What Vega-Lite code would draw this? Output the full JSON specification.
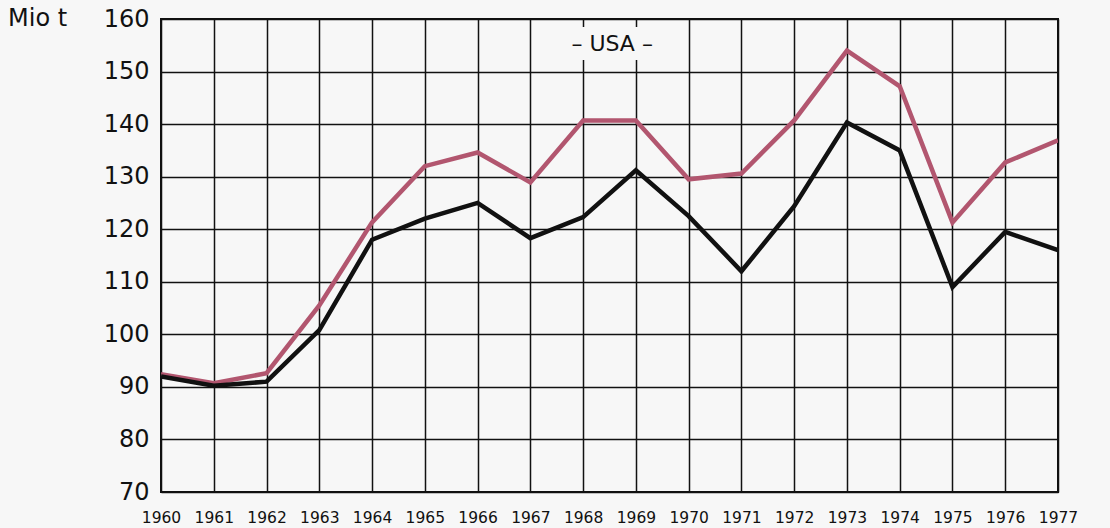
{
  "$schema": "https://vega.github.io/schema/vega-lite/v6.json",
  "width": 897,
  "height": 473,
  "autosize": {"type": "none"},
  "padding": {"left": 161, "top": 19, "right": 52, "bottom": 36},
  "background": "#f7f7f7",
  "config": {
    "view": {"stroke": "#111111", "strokeWidth": 2, "fill": "#f7f7f7"},
    "font": "DejaVu Sans"
  },
  "datasets": {
    "lines": [
      {"year": 1960, "series": "A", "value": 92.4},
      {"year": 1961, "series": "A", "value": 90.7},
      {"year": 1962, "series": "A", "value": 92.6},
      {"year": 1963, "series": "A", "value": 105.5},
      {"year": 1964, "series": "A", "value": 121.3},
      {"year": 1965, "series": "A", "value": 132},
      {"year": 1966, "series": "A", "value": 134.6},
      {"year": 1967, "series": "A", "value": 128.9},
      {"year": 1968, "series": "A", "value": 140.7},
      {"year": 1969, "series": "A", "value": 140.7},
      {"year": 1970, "series": "A", "value": 129.5},
      {"year": 1971, "series": "A", "value": 130.6},
      {"year": 1972, "series": "A", "value": 140.7},
      {"year": 1973, "series": "A", "value": 154},
      {"year": 1974, "series": "A", "value": 147.2},
      {"year": 1975, "series": "A", "value": 121.3},
      {"year": 1976, "series": "A", "value": 132.7},
      {"year": 1977, "series": "A", "value": 136.9},
      {"year": 1960, "series": "B", "value": 92},
      {"year": 1961, "series": "B", "value": 90.2},
      {"year": 1962, "series": "B", "value": 91},
      {"year": 1963, "series": "B", "value": 100.8},
      {"year": 1964, "series": "B", "value": 118},
      {"year": 1965, "series": "B", "value": 122},
      {"year": 1966, "series": "B", "value": 125},
      {"year": 1967, "series": "B", "value": 118.3},
      {"year": 1968, "series": "B", "value": 122.3},
      {"year": 1969, "series": "B", "value": 131.2},
      {"year": 1970, "series": "B", "value": 122.5},
      {"year": 1971, "series": "B", "value": 112},
      {"year": 1972, "series": "B", "value": 124.4},
      {"year": 1973, "series": "B", "value": 140.3},
      {"year": 1974, "series": "B", "value": 135},
      {"year": 1975, "series": "B", "value": 109},
      {"year": 1976, "series": "B", "value": 119.5},
      {"year": 1977, "series": "B", "value": 116}
    ],
    "label": [
      {"x1": 1967.6, "x2": 1969.5, "y1": 152.2, "y2": 158.5, "xc": 1968.55, "yc": 155.2, "text": "– USA –"}
    ]
  },
  "layer": [
    {
      "data": {"name": "label"},
      "mark": {"type": "rect", "fill": "#f7f7f7"},
      "encoding": {
        "x": {"field": "x1", "type": "quantitative", "scale": {"domain": [1960, 1977], "nice": false, "zero": false},
          "axis": {"values": [1960,1961,1962,1963,1964,1965,1966,1967,1968,1969,1970,1971,1972,1973,1974,1975,1976,1977],
            "format": "d", "title": null, "grid": true, "gridColor": "#111111", "gridWidth": 1.5, "gridOpacity": 1,
            "domain": false, "ticks": false, "labelPadding": 18, "labelFontSize": 15.5, "labelColor": "#111111",
            "labelFont": "DejaVu Sans", "labelFlush": false, "zindex": 0}},
        "x2": {"field": "x2"},
        "y": {"field": "y1", "type": "quantitative", "scale": {"domain": [70, 160], "nice": false, "zero": false},
          "axis": {"values": [70,80,90,100,110,120,130,140,150,160], "title": null, "grid": true,
            "gridColor": "#111111", "gridWidth": 1.5, "gridOpacity": 1, "domain": false, "ticks": false,
            "labelPadding": 12, "labelFontSize": 24, "labelColor": "#111111", "labelFont": "DejaVu Sans", "zindex": 0}},
        "y2": {"field": "y2"}
      }
    },
    {
      "data": {"name": "label"},
      "mark": {"type": "text", "fontSize": 22, "font": "DejaVu Sans", "color": "#111111", "align": "center", "baseline": "middle"},
      "encoding": {
        "x": {"field": "xc", "type": "quantitative"},
        "y": {"field": "yc", "type": "quantitative"},
        "text": {"field": "text"}
      }
    },
    {
      "data": {"name": "lines"},
      "mark": {"type": "line", "strokeWidth": 4.5, "strokeJoin": "miter", "clip": true},
      "encoding": {
        "x": {"field": "year", "type": "quantitative"},
        "y": {"field": "value", "type": "quantitative"},
        "detail": {"field": "series"},
        "color": {"field": "series", "type": "nominal", "scale": {"domain": ["A", "B"], "range": ["#b2566f", "#111111"]}, "legend": null}
      }
    },
    {
      "data": {"values": [{"t": "Mio  t", "xv": 1960, "yv": 160}]},
      "mark": {"type": "text", "fontSize": 24, "font": "DejaVu Sans", "color": "#111111", "align": "left", "baseline": "middle", "dx": -153},
      "encoding": {
        "x": {"field": "xv", "type": "quantitative"},
        "y": {"field": "yv", "type": "quantitative"},
        "text": {"field": "t"}
      }
    }
  ]
}
